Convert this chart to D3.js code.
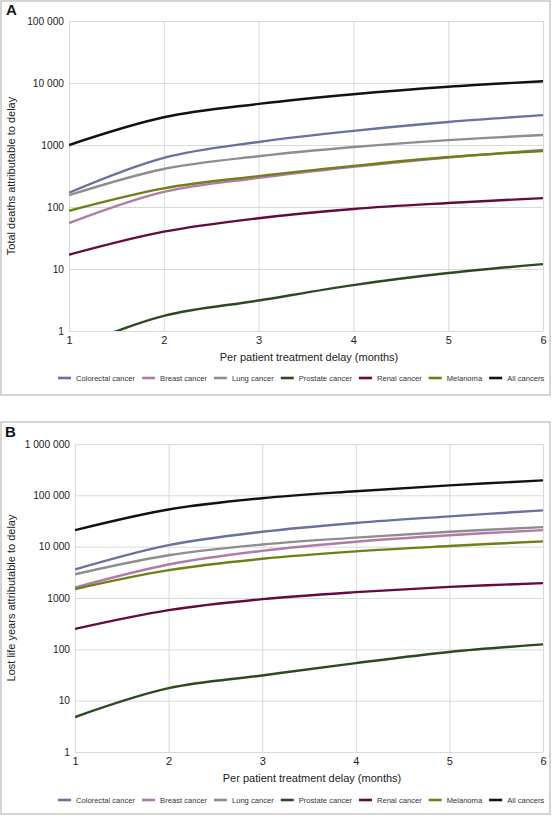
<!DOCTYPE html>
<html><head><meta charset="utf-8">
<script src="https://cdn.jsdelivr.net/npm/d3@7"></script>
<style>
html,body{margin:0;padding:0;background:#fff;}
svg{display:block;font-family:"Liberation Sans",Arial,sans-serif;}
</style></head>
<body>
<svg id="c" width="552" height="816"></svg>
<script>
const months = [1, 2, 3, 4, 5, 6];
const seriesNames = ["Colorectal cancer","Breast cancer","Lung cancer","Prostate cancer","Renal cancer","Melanoma","All cancers"];
const seriesColors = ["#6a70a0","#b07ba6","#8e8e8e","#2d4a1e","#650a3c","#6f7f17","#111111"];

// Panel A: total deaths attributable to delay
const deathsColorectal = [170, 620, 1120, 1690, 2350, 3030];
const deathsBreast     = [55, 175, 295, 445, 630, 830];
const deathsLung       = [155, 410, 660, 930, 1200, 1450];
const deathsProstate   = [0.5, 1.75, 3.1, 5.5, 8.6, 12];
const deathsRenal      = [17, 40, 66, 93, 116, 139];
const deathsMelanoma   = [87, 200, 315, 460, 640, 800];
const deathsAll        = [1000, 2800, 4600, 6600, 8700, 10700];

// Panel B: lost life years attributable to delay
const lyColorectal = [3600, 10700, 19500, 29000, 39000, 51000];
const lyBreast     = [1600, 4500, 8300, 12500, 16700, 21000];
const lyLung       = [2900, 6800, 11000, 15000, 19500, 24000];
const lyProstate   = [4.8, 17.5, 31, 54, 89, 125];
const lyRenal      = [250, 580, 950, 1300, 1650, 1950];
const lyMelanoma   = [1500, 3500, 5800, 8100, 10300, 12700];
const lyAll        = [21000, 53000, 88000, 120000, 156000, 196000];

const ticksA = [1, 10, 100, 1000, 10000, 100000];
const tickLabelsA = ["1","10","100","1000","10 000","100 000"];
const ticksB = [1, 10, 100, 1000, 10000, 100000, 1000000];
const tickLabelsB = ["1","10","100","1000","10 000","100 000","1 000 000"];

const svg = d3.select("#c");

function panel(cfg){
  const g = svg.append("g");
  g.append("rect").attr("x",cfg.frame[0]).attr("y",cfg.frame[1])
    .attr("width",cfg.frame[2]-cfg.frame[0]).attr("height",cfg.frame[3]-cfg.frame[1])
    .attr("fill","none").attr("stroke","#c6c6c6").attr("stroke-width",1.5);
  g.append("text").attr("x",cfg.labelPos[0]).attr("y",cfg.labelPos[1])
    .attr("font-size",15).attr("font-weight","bold").attr("fill","#111").text(cfg.label);

  const x = d3.scaleLinear().domain([1,6]).range([cfg.left, cfg.right]);
  const y = d3.scaleLog().domain([1, cfg.ticks[cfg.ticks.length-1]]).range([cfg.bottom, cfg.top]);

  const yAxis = d3.axisLeft(y).tickValues(cfg.ticks).tickFormat((d,i)=>cfg.tickLabels[i])
    .tickSize(-(cfg.right-cfg.left)).tickPadding(5);
  const ya = g.append("g").attr("transform",`translate(${cfg.left},0)`).call(yAxis);
  ya.select(".domain").remove();
  ya.selectAll("line").attr("stroke","#d9d9d9");
  ya.selectAll("text").attr("font-size",10.2).attr("fill","#222").attr("font-family","Liberation Sans, Arial, sans-serif");

  const xAxis = d3.axisBottom(x).tickValues(months).tickFormat(d3.format("d"))
    .tickSize(-(cfg.bottom-cfg.top)).tickPadding(5);
  const xa = g.append("g").attr("transform",`translate(0,${cfg.bottom})`).call(xAxis);
  xa.select(".domain").remove();
  xa.selectAll("line").attr("stroke","#d9d9d9");
  xa.selectAll("text").attr("font-size",11).attr("fill","#222").attr("font-family","Liberation Sans, Arial, sans-serif");

  g.append("text").attr("x",(cfg.left+cfg.right)/2+3).attr("y",cfg.bottom+30)
    .attr("text-anchor","middle").attr("font-size",11).attr("fill","#222")
    .text("Per patient treatment delay (months)");
  g.append("text").attr("transform",`translate(${cfg.yTitleX},${(cfg.top+cfg.bottom)/2}) rotate(-90)`)
    .attr("text-anchor","middle").attr("font-size",11).attr("fill","#222").text(cfg.yTitle);

  const clipId = "clip"+cfg.label;
  g.append("clipPath").attr("id",clipId).append("rect")
    .attr("x",cfg.left).attr("y",cfg.top-3).attr("width",cfg.right-cfg.left+2).attr("height",cfg.bottom-cfg.top+3);
  const line = d3.line().x((d,i)=>x(months[i])).y(d=>y(d)).curve(d3.curveCatmullRom.alpha(0.5));
  const lg = g.append("g").attr("clip-path",`url(#${clipId})`);
  cfg.series.forEach((s,i)=>{
    lg.append("path").attr("d",line(s)).attr("fill","none")
      .attr("stroke",seriesColors[i]).attr("stroke-width",2.4).attr("stroke-linecap","butt");
  });

  const leg = g.append("g").attr("transform",`translate(0,${cfg.legendY})`);
  const gapAfter = 7, swatchW = 13, textOff = 18;
  let cx = cfg.legendStart;
  seriesNames.forEach((n,i)=>{
    const it = leg.append("g").attr("transform",`translate(${cx},0)`);
    it.append("line").attr("x1",0).attr("x2",swatchW).attr("y1",0).attr("y2",0)
      .attr("stroke",seriesColors[i]).attr("stroke-width",2.6);
    const t = it.append("text").attr("x",textOff).attr("y",3).attr("font-size",7.6).attr("fill","#333").text(n);
    const w = t.node().getComputedTextLength();
    cx += textOff + w + gapAfter;
  });
}

panel({
  label:"A", labelPos:[6,15], frame:[1,1,550,395],
  left:69, right:543, top:21, bottom:331,
  ticks:ticksA, tickLabels:tickLabelsA,
  yTitle:"Total deaths attributable to delay", yTitleX:15,
  series:[deathsColorectal,deathsBreast,deathsLung,deathsProstate,deathsRenal,deathsMelanoma,deathsAll],
  legendY:378, legendStart:58
});
panel({
  label:"B", labelPos:[5,437], frame:[1,422,550,814],
  left:75, right:543, top:444, bottom:752,
  ticks:ticksB, tickLabels:tickLabelsB,
  yTitle:"Lost life years attributable to delay", yTitleX:15,
  series:[lyColorectal,lyBreast,lyLung,lyProstate,lyRenal,lyMelanoma,lyAll],
  legendY:800, legendStart:58
});
</script>
</body></html>
